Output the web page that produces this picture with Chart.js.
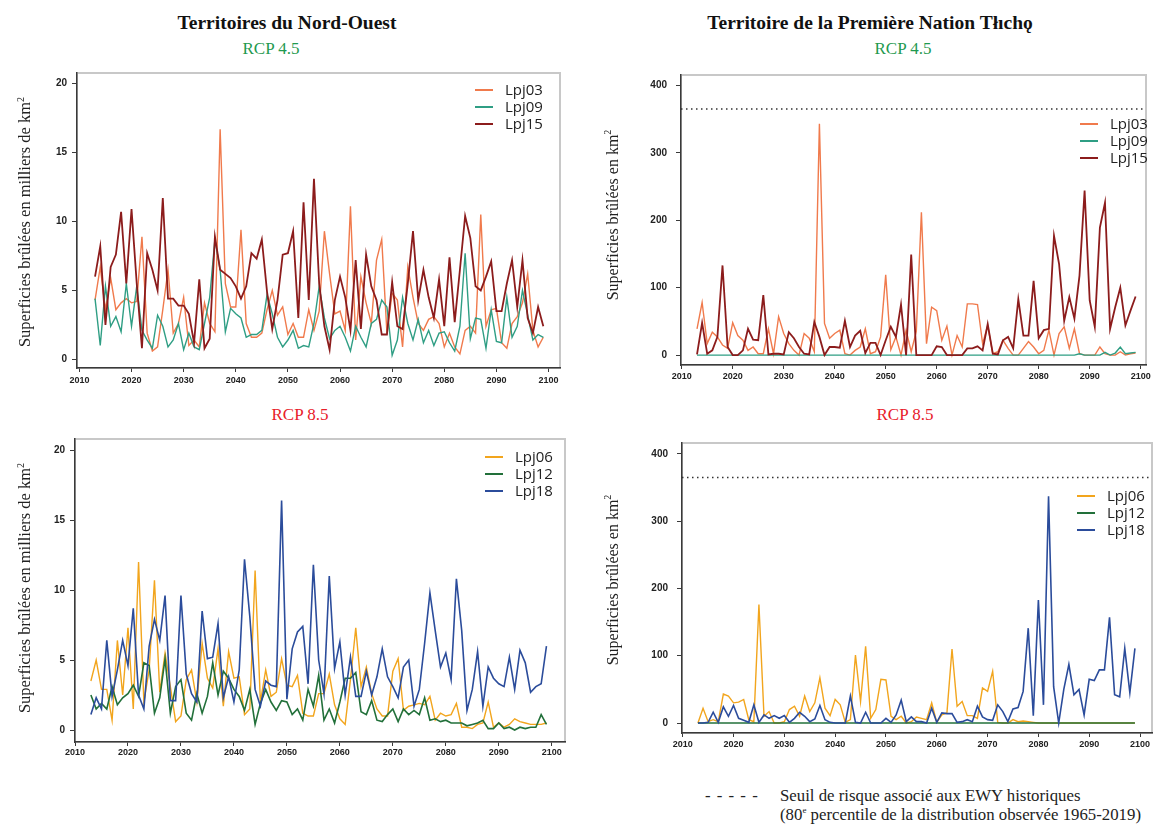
<!DOCTYPE html>
<html><head><meta charset="utf-8">
<script src="https://cdn.jsdelivr.net/npm/chart.js@4.4.1/dist/chart.umd.min.js"></script>
<style>
html,body{margin:0;padding:0;background:#fff;}
#root{position:relative;width:1155px;height:827px;overflow:hidden;font-family:'Liberation Serif','Times New Roman',serif;color:#111;}
canvas{position:absolute;}
.t{position:absolute;white-space:nowrap;transform:translate(-50%,-50%);}
.title{font-weight:bold;font-size:19.5px;color:#111;}
.rcp{font-size:17px;}
.ylab{font-size:16.5px;color:#222;transform:translate(-50%,-50%) rotate(-90deg);}
.ylab2{font-size:16px;color:#222;transform:translate(-50%,-50%) rotate(-90deg);}
.leg{position:absolute;font-family:'Open Sans',sans-serif;font-size:15px;color:#222;}
.leg .row{height:17px;line-height:17px;white-space:nowrap;}
.leg .sw{display:inline-block;width:18px;height:0;border-top:2px solid #000;vertical-align:middle;margin-right:12px;}
.note{position:absolute;font-size:16.8px;color:#222;white-space:nowrap;}
</style></head>
<body><div id="root">
<canvas id="c1" width="540" height="340" style="left:30px;top:60px"></canvas>
<canvas id="c2" width="555" height="340" style="left:600px;top:60px"></canvas>
<canvas id="c3" width="540" height="340" style="left:30px;top:425px"></canvas>
<canvas id="c4" width="555" height="340" style="left:600px;top:425px"></canvas>

<div class="t title" style="left:287px;top:23px">Territoires du Nord-Ouest</div>
<div class="t rcp" style="left:271px;top:49px;color:#1f9a4f">RCP 4.5</div>
<div class="t title" style="left:870px;top:23px">Territoire de la Première Nation Tłıchǫ</div>
<div class="t rcp" style="left:903px;top:49px;color:#1f9a4f">RCP 4.5</div>
<div class="t rcp" style="left:300px;top:415px;color:#e8202a">RCP 8.5</div>
<div class="t rcp" style="left:905px;top:415px;color:#e8202a">RCP 8.5</div>

<div class="t ylab" style="left:25px;top:222px">Superficies brûlées en milliers de km<sup style="font-size:10px">2</sup></div>
<div class="t ylab" style="left:25px;top:588px">Superficies brûlées en milliers de km<sup style="font-size:10px">2</sup></div>
<div class="t ylab2" style="left:612px;top:215px">Superficies brûlées en km<sup style="font-size:10px">2</sup></div>
<div class="t ylab2" style="left:612px;top:580px">Superficies brûlées en km<sup style="font-size:10px">2</sup></div>

<div class="note" style="left:705px;top:786px;letter-spacing:1px">- - - - -</div>
<div class="note" style="left:780px;top:786px">Seuil de risque associé aux EWY historiques</div>
<div class="note" style="left:780px;top:805px">(80<sup style="font-size:9px">e</sup> percentile de la distribution observée 1965-2019)</div>
</div>
<script>
// ---------- categories & ticks ----------
const YEARS = [2013,2014,2015,2016,2017,2018,2019,
 2020,2021,2022,2023,2024,2025,2026,2027,2028,2029,
 2030,2031,2032,2033,2034,2035,2036,2037,2038,2039,
 2040,2041,2042,2043,2044,2045,2046,2047,2048,2049,
 2050,2051,2052,2053,2054,2055,2056,2057,2058,2059,
 2060,2061,2062,2063,2064,2065,2066,2067,2068,2069,
 2070,2071,2072,2073,2074,2075,2076,2077,2078,2079,
 2080,2081,2082,2083,2084,2085,2086,2087,2088,2089,
 2090,2091,2092,2093,2094,2095,2096,2097,2098,2099];
const X_TICKS = [2010,2020,2030,2040,2050,2060,2070,2080,2090,2100];
const Y_TICKS_NWT = [0,5,10,15,20];
const Y_TICKS_TLICHO = [0,100,200,300,400];
const THRESHOLD = 365;

// ---------- NWT, RCP 4.5 (thousands of km2) ----------
const NWT45_LPJ03 = [4.3,6.7,3.6,5.9,3.6,4.1,4.4,
 4.1,4.2,8.9,1.9,0.6,0.9,3.6,6.5,1.9,2.6,
 4.5,1.0,1.4,0.9,4.1,2.6,2.0,16.7,5.5,3.8,
 3.8,9.4,2.6,1.6,1.6,1.9,3.6,5.0,3.2,3.8,
 1.8,2.6,1.6,1.6,3.6,2.1,3.5,9.3,6.2,3.3,
 3.5,2.1,11.1,1.4,6.0,4.1,2.6,7.2,8.7,1.9,
 4.8,4.3,0.9,6.7,4.5,2.6,2.1,2.9,3.1,2.6,
 0.9,1.9,0.9,0.4,2.1,2.4,1.9,10.5,2.4,3.6,
 3.7,1.2,0.8,2.6,3.1,4.1,6.2,2.1,0.9,1.6];
const NWT45_LPJ09 = [4.4,1.0,5.3,2.4,3.1,2.0,5.5,
 2.4,5.3,2.1,1.4,0.8,3.2,2.4,0.9,1.4,2.6,
 0.7,1.9,0.9,0.7,2.6,4.5,8.7,6.5,2.0,3.7,
 3.3,3.0,1.6,1.8,1.8,2.1,4.7,3.3,1.6,0.9,
 1.4,2.1,0.8,1.0,0.9,2.6,5.3,3.0,1.5,2.1,
 2.4,1.6,0.6,2.4,1.6,0.9,2.6,2.9,4.3,3.8,
 0.3,1.4,4.5,2.6,1.4,2.9,1.2,2.1,1.0,1.9,
 2.0,1.2,0.6,2.4,7.7,1.5,3.0,2.9,0.8,3.6,
 1.3,1.2,4.5,1.6,2.4,5.0,3.2,1.4,1.8,1.6];
const NWT45_LPJ15 = [6.0,8.2,2.5,6.7,7.6,10.7,5.5,
 10.9,5.5,0.8,7.7,6.5,5.0,11.7,4.4,4.4,3.9,
 3.9,3.3,1.2,5.8,0.8,1.5,8.9,6.5,6.2,5.9,
 5.3,4.4,5.3,7.7,7.3,8.7,4.9,2.2,4.3,7.6,
 7.7,9.3,3.0,11.4,4.3,13.1,5.5,2.4,0.7,4.3,
 6.0,4.5,2.1,7.2,2.2,7.6,5.3,4.3,1.8,1.8,
 5.6,2.4,2.2,5.5,9.3,4.3,6.5,4.5,3.0,5.8,
 2.4,7.4,2.7,6.5,10.4,8.8,5.3,5.0,6.0,7.1,
 3.5,3.5,5.5,7.2,3.8,7.2,3.0,1.9,3.8,2.4];

// ---------- Tlicho, RCP 4.5 (km2) ----------
const TLI45_LPJ03 = [39,78,17,34,27,15,10,
 48,29,22,7,12,2,2,39,2,57,
 32,17,7,0,32,25,5,343,47,25,
 32,37,2,0,7,12,39,2,5,27,
 119,8,27,0,37,5,35,212,17,71,
 66,22,43,0,29,12,76,76,75,17,
 44,2,5,22,10,0,0,10,20,12,
 2,7,37,0,32,42,10,39,2,0,
 0,0,12,2,0,0,5,0,2,3];
const TLI45_LPJ09 = [0,0,0,0,0,0,0,
 0,0,0,0,0,0,0,0,0,0,
 0,0,0,0,0,0,0,0,0,0,
 0,0,0,0,0,0,0,0,0,0,
 0,0,0,0,0,0,0,0,0,0,
 0,0,0,0,0,0,0,0,0,0,
 0,0,0,0,0,0,0,0,0,0,
 0,0,0,0,0,0,0,0,2,0,
 0,0,0,4,0,3,12,2,3,4];
const TLI45_LPJ15 = [1,48,2,7,27,133,12,
 0,0,7,39,23,22,89,1,2,2,
 1,34,25,12,2,1,49,27,0,12,
 12,11,51,12,29,36,3,18,18,0,
 22,42,27,75,0,149,0,0,0,0,
 13,12,0,0,0,0,10,10,13,7,
 46,2,1,22,27,10,83,29,29,110,
 25,37,39,177,135,51,86,54,118,244,
 81,42,189,226,39,71,100,44,66,87];

// ---------- NWT, RCP 8.5 (thousands of km2) ----------
const NWT85_LPJ06 = [3.5,5.0,2.9,2.9,0.7,6.4,2.5,
 7.3,1.5,12.0,2.0,4.3,10.7,2.7,5.5,3.1,0.6,
 1.0,3.6,4.3,2.0,6.2,3.7,3.0,5.8,1.7,5.6,
 3.7,3.8,1.1,1.5,11.4,2.0,4.3,2.4,2.7,5.1,
 3.2,3.1,3.9,1.2,1.0,1.0,2.6,2.6,4.0,1.8,
 0.8,0.4,3.6,7.3,3.1,4.5,2.6,1.5,1.0,1.0,
 4.2,5.1,1.4,1.7,1.8,1.9,1.8,2.4,0.7,1.2,
 1.0,1.1,1.9,0.2,0.2,0.1,0.4,0.5,2.0,0.2,
 0.5,0.2,0.4,0.8,0.6,0.5,0.4,0.4,0.4,0.5];
const NWT85_LPJ12 = [2.5,1.5,1.9,1.5,3.1,1.8,2.3,
 2.6,3.2,2.4,4.8,4.6,1.2,2.3,5.1,1.2,3.1,
 3.6,1.2,0.7,2.6,1.2,2.4,4.8,2.5,4.2,3.7,
 2.9,2.4,1.4,2.9,0.4,1.9,2.9,2.0,1.4,2.1,
 2.0,1.1,1.5,0.7,2.9,1.7,3.9,0.7,1.5,0.5,
 2.0,3.7,3.7,4.1,1.3,1.1,2.1,0.7,0.6,1.1,
 1.5,0.6,1.5,1.1,1.4,1.1,2.3,0.7,0.8,0.6,
 0.7,0.5,0.5,0.5,0.3,0.4,0.5,0.7,0.1,0.1,
 0.5,0.1,0.2,0.0,0.2,0.1,0.2,0.2,1.1,0.4];
const NWT85_LPJ18 = [1.1,2.3,1.5,6.4,2.4,4.3,6.4,
 4.6,8.7,2.5,1.5,6.0,7.9,6.4,9.6,2.1,2.1,
 9.6,4.0,2.6,2.0,8.5,5.1,5.2,7.6,2.3,3.8,
 2.0,4.3,12.2,8.1,2.9,1.7,3.5,3.2,3.1,16.4,
 2.2,5.8,7.0,7.4,3.3,11.8,5.0,2.6,11.0,4.4,
 6.3,2.5,5.2,2.4,2.4,4.2,2.5,3.8,5.8,3.8,
 3.1,2.3,4.5,5.0,1.7,2.9,6.2,9.8,7.1,4.5,
 5.5,3.6,10.8,7.1,1.4,2.9,5.6,1.7,4.5,3.7,
 3.3,3.1,5.2,2.9,5.7,4.8,2.7,3.1,3.3,6.0];

// ---------- Tlicho, RCP 8.5 (km2) ----------
const TLI85_LPJ06 = [0,22,2,5,2,43,40,
 30,31,35,5,2,176,10,17,0,0,
 2,20,25,10,40,17,30,67,22,11,
 35,27,1,5,101,32,114,7,20,65,
 64,10,5,10,0,2,9,7,5,30,
 1,12,15,110,25,32,11,11,7,52,
 47,77,1,0,0,5,2,3,2,1,
 0,0,0,0,0,0,0,0,0,0,
 0,0,0,0,0,0,0,0,0,0];
const TLI85_LPJ12 = [0,0,0,0,0,0,0,
 0,0,0,0,0,0,0,0,0,0,
 0,0,0,0,0,0,0,0,0,0,
 0,0,0,0,0,0,0,0,0,0,
 0,0,0,0,0,0,0,0,0,0,
 0,0,0,0,0,0,0,0,0,0,
 0,0,0,0,0,0,0,0,0,0,
 0,0,0,0,0,0,0,0,0,0,
 0,0,0,0,0,0,0,0,0,0];
const TLI85_LPJ18 = [0,0,1,16,1,24,10,
 26,7,4,1,27,1,12,7,11,7,
 11,1,7,16,10,2,6,26,5,1,
 0,0,0,40,1,0,16,0,0,0,
 7,1,12,34,2,9,2,2,0,22,
 1,15,14,14,1,2,5,2,25,9,
 5,4,27,17,2,21,23,47,141,11,
 183,27,337,54,0,50,87,42,50,12,
 65,63,79,79,157,42,39,111,45,111];

// ---------- styling ----------
const COLORS = {Lpj03:'#f07a4c', Lpj09:'#2f9e84', Lpj15:'#8c1c1c', Lpj06:'#f2a51d', Lpj12:'#22703a', Lpj18:'#2b4c9b'};
const WIDTHS = {Lpj03:1.4, Lpj09:1.4, Lpj15:1.8, Lpj06:1.4, Lpj12:1.6, Lpj18:1.6};
const DRAW_ORDER = {Lpj03:3, Lpj06:3, Lpj09:2, Lpj12:2, Lpj15:1, Lpj18:1};
const TICK_FONT = {family:"'Liberation Sans', Arial, sans-serif", size:10, weight:'bold'};

function series(label, data){
  return {label, data, borderColor:COLORS[label], backgroundColor:COLORS[label],
          borderWidth:WIDTHS[label], order:DRAW_ORDER[label], pointRadius:0, tension:0, fill:false};
}
function thresholdSet(xmin, xmax){
  return {label:'threshold', data:[{x:xmin,y:THRESHOLD},{x:xmax,y:THRESHOLD}], order:0,
          borderColor:'#333', borderWidth:1.5, borderDash:[1.5,3.5], pointRadius:0, fill:false, legendHidden:true};
}

const framePlugin = {
  id:'frame',
  beforeDraw(chart){
    const {ctx, chartArea:a} = chart;
    ctx.save(); ctx.strokeStyle = '#c8c8c8'; ctx.lineWidth = 2;
    ctx.strokeRect(a.left, a.top, a.right - a.left, a.bottom - a.top);
    ctx.restore();
  }
};

function makeChart(id, datasets, cfg){
  return new Chart(document.getElementById(id), {
    type:'line',
    data:{labels:YEARS, datasets},
    plugins:[framePlugin],
    options:{
      responsive:false, animation:false,
      layout:{padding:cfg.padding},
      plugins:{legend:{display:false}, tooltip:{enabled:false}},
      scales:{
        x:{type:'linear', min:cfg.xmin, max:cfg.xmax,
           afterBuildTicks:s=>{ s.ticks = X_TICKS.map(v=>({value:v})); },
           afterFit:s=>{ s.height = cfg.xHeight; },
           ticks:{autoSkip:false, maxRotation:0, minRotation:0, padding:cfg.xPad, font:{...TICK_FONT, size:9}, color:'#222', callback:v=>String(v)},
           grid:{drawOnChartArea:false, drawTicks:true, tickLength:4, color:'#3a3a3a', lineWidth:1},
           border:{display:true, color:'#3a3a3a', width:1.5}},
        y:{type:'linear', min:cfg.ymin, max:cfg.ymax,
           afterBuildTicks:s=>{ s.ticks = cfg.yticks.map(v=>({value:v})); },
           afterFit:s=>{ s.width = cfg.yWidth; },
           ticks:{padding:cfg.yPad, font:TICK_FONT, color:'#222', callback:v=>String(v)},
           grid:{drawOnChartArea:false, drawTicks:true, tickLength:5, color:'#3a3a3a', lineWidth:1},
           border:{display:true, color:'#3a3a3a', width:1.5}}
      }
    }
  });
}

function makeLegend(datasets, left, topCenter){
  const box = document.createElement('div');
  box.className = 'leg';
  box.style.left = left + 'px';
  box.style.top = (topCenter - 8.5) + 'px';
  datasets.filter(d=>!d.legendHidden).forEach(d=>{
    const row = document.createElement('div'); row.className = 'row';
    const sw = document.createElement('span'); sw.className = 'sw'; sw.style.borderTopColor = d.borderColor;
    row.appendChild(sw); row.appendChild(document.createTextNode(d.label));
    box.appendChild(row);
  });
  document.getElementById('root').appendChild(box);
}

// Panel 1
const ds1 = [series('Lpj03',NWT45_LPJ03), series('Lpj09',NWT45_LPJ09), series('Lpj15',NWT45_LPJ15)];
makeChart('c1', ds1, {padding:{top:13,right:10,bottom:0,left:0}, yWidth:47, xHeight:32,
  xmin:2009.54, xmax:2102.2, ymin:-0.63, ymax:20.78, yticks:Y_TICKS_NWT, xPad:3, yPad:5});
makeLegend(ds1, 475, 89);

// Panel 2
const ds2 = [series('Lpj03',TLI45_LPJ03), series('Lpj09',TLI45_LPJ09), series('Lpj15',TLI45_LPJ15)];
ds2.push(thresholdSet(2009.86, 2101.04));
makeChart('c2', ds2, {padding:{top:13,right:9,bottom:0,left:0}, yWidth:81, xHeight:35,
  xmin:2009.86, xmax:2101.04, ymin:-14.7, ymax:415.5, yticks:Y_TICKS_TLICHO, xPad:2, yPad:9});
makeLegend(ds2, 1080, 123);

// Panel 3
const ds3 = [series('Lpj06',NWT85_LPJ06), series('Lpj12',NWT85_LPJ12), series('Lpj18',NWT85_LPJ18)];
makeChart('c3', ds3, {padding:{top:14,right:5,bottom:0,left:0}, yWidth:45, xHeight:23,
  xmin:2010, xmax:2102.5, ymin:-0.857, ymax:20.79, yticks:Y_TICKS_NWT, xPad:1, yPad:5});
makeLegend(ds3, 485, 456);

// Panel 4
const ds4 = [series('Lpj06',TLI85_LPJ06), series('Lpj12',TLI85_LPJ12), series('Lpj18',TLI85_LPJ18)];
ds4.push(thresholdSet(2009.86, 2102.36));
makeChart('c4', ds4, {padding:{top:18,right:3,bottom:0,left:0}, yWidth:82, xHeight:32,
  xmin:2009.86, xmax:2102.36, ymin:-14.85, ymax:416.3, yticks:Y_TICKS_TLICHO, xPad:2, yPad:9});
makeLegend(ds4, 1077, 495);
</script>
</body></html>
